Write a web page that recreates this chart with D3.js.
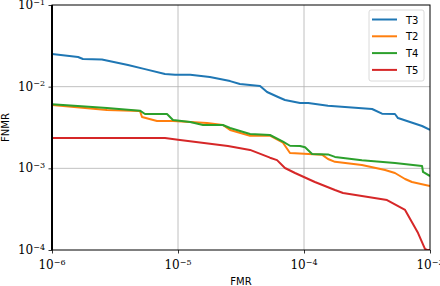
<!DOCTYPE html>
<html>
<head>
<meta charset="utf-8">
<script src="https://cdn.jsdelivr.net/npm/d3@7"></script>
<style>
body { margin: 0; background: #fff; }
svg { display: block; }
</style>
</head>
<body>
<svg id="chart" width="440" height="286"></svg>
<script>
// series names, in legend order
var names = ["T3", "T2", "T4", "T5"];
var colors = ["#1f77b4", "#ff7f0e", "#2ca02c", "#d62728"];

// [FMR, FNMR]
var t3 = [[1e-6,2.51e-2],[1.61e-6,2.31e-2],[1.76e-6,2.18e-2],[2.49e-6,2.15e-2],[4.01e-6,1.84e-2],
	[5.47e-6,1.64e-2],[7.88e-6,1.43e-2],[9.47e-6,1.40e-2],[1.25e-5,1.40e-2],[1.79e-5,1.31e-2],
	[2.59e-5,1.17e-2],[3.10e-5,1.08e-2],[4.48e-5,1.02e-2],[5.09e-5,8.61e-3],[6.22e-5,7.48e-3],
	[7.06e-5,6.87e-3],[9.30e-5,6.31e-3],[1.08e-4,6.31e-3],[1.55e-4,5.85e-3],[3.47e-4,5.33e-3],
	[4.16e-4,4.67e-3],[5.27e-4,4.63e-3],[5.57e-4,4.13e-3],[6.94e-4,3.69e-3],[8.65e-4,3.30e-3],
	[1e-3,2.95e-3]];
var t2 = [[1e-6,5.97e-3],[2.73e-6,5.18e-3],[4.99e-6,5.04e-3],[5.18e-6,4.25e-3],[6.81e-6,3.80e-3],
	[9.12e-6,3.80e-3],[1.25e-5,3.69e-3],[1.70e-5,3.59e-3],[2.27e-5,3.39e-3],[2.59e-5,2.95e-3],
	[3.73e-5,2.51e-3],[5.37e-5,2.51e-3],[6.81e-5,2.06e-3],[7.74e-5,1.54e-3],[8.49e-5,1.53e-3],
	[1.39e-4,1.47e-3],[1.55e-4,1.30e-3],[1.76e-4,1.20e-3],[2.88e-4,1.10e-3],[4.40e-4,9.55e-4],
	[5.27e-4,8.77e-4],[6.34e-4,7.40e-4],[7.19e-4,6.80e-4],[1e-3,6.08e-4]];
var t4 = [[1e-6,6.08e-3],[2.73e-6,5.48e-3],[4.99e-6,5.08e-3],[5.47e-6,4.63e-3],[8.18e-6,4.63e-3],
	[9.12e-6,3.91e-3],[1.25e-5,3.69e-3],[1.58e-5,3.39e-3],[2.27e-5,3.39e-3],[2.59e-5,3.12e-3],
	[3.73e-5,2.63e-3],[5.37e-5,2.56e-3],[6.81e-5,2.12e-3],[7.74e-5,1.89e-3],[9.30e-5,1.88e-3],
	[1.02e-4,1.81e-3],[1.16e-4,1.50e-3],[1.55e-4,1.48e-3],[1.76e-4,1.38e-3],[2.88e-4,1.26e-3],
	[5.27e-4,1.16e-3],[8.65e-4,1.07e-3],[8.80e-4,9.02e-4],[1e-3,8.05e-4]];
var t5 = [[1e-6,2.35e-3],[7.88e-6,2.35e-3],[1e-5,2.24e-3],[2.49e-5,1.88e-3],[3.73e-5,1.68e-3],
	[5.37e-5,1.35e-3],[6.11e-5,1.26e-3],[7.06e-5,1.01e-3],[8.49e-5,8.77e-4],[1.22e-4,6.80e-4],
	[1.76e-4,5.43e-4],[2.04e-4,4.99e-4],[4.56e-4,4.09e-4],[6.34e-4,3.09e-4],[8.04e-4,1.61e-4],
	[9.12e-4,1.03e-4],[9.46e-4,1e-4],[1e-3,1e-4]];
var series = [t3, t2, t4, t5];

var xMajor = [-6, -5, -4, -3];
var yMajor = [-4, -3, -2, -1];

var margin = {left: 52, right: 10, top: 5, bottom: 36};
var width = 440, height = 286;
var svg = d3.select("#chart");

var x = d3.scaleLog().domain([1e-6, 1e-3]).range([margin.left, width - margin.right]);
var y = d3.scaleLog().domain([1e-4, 1e-1]).range([height - margin.bottom, margin.top]);

// minor tick values
function minors(lo, hi){
	var out = [];
	for (var e = lo; e < hi; e++){
		for (var m = 2; m < 10; m++){
			out.push(m * Math.pow(10, e));
		}
	}
	return out;
}

// grid
svg.append("g").selectAll("line")
	.data([-5, -4])
	.enter().append("line")
	.attr("x1", function(d){ return x(Math.pow(10, d)); })
	.attr("x2", function(d){ return x(Math.pow(10, d)); })
	.attr("y1", y(1e-4)).attr("y2", y(1e-1))
	.attr("stroke", "#b0b0b0").attr("stroke-width", 0.8);
svg.append("g").selectAll("line")
	.data([-3, -2])
	.enter().append("line")
	.attr("y1", function(d){ return y(Math.pow(10, d)); })
	.attr("y2", function(d){ return y(Math.pow(10, d)); })
	.attr("x1", x(1e-6)).attr("x2", x(1e-3))
	.attr("stroke", "#b0b0b0").attr("stroke-width", 0.8);

// curves
var line = d3.line()
	.x(function(d){ return x(d[0]); })
	.y(function(d){ return y(d[1]); });

svg.append("defs").append("clipPath").attr("id", "clip")
	.append("rect")
	.attr("x", x(1e-6)).attr("y", y(1e-1) - 2)
	.attr("width", x(1e-3) - x(1e-6)).attr("height", y(1e-4) - y(1e-1) + 2);

svg.append("g").attr("clip-path", "url(#clip)")
	.selectAll("path")
	.data(series)
	.enter().append("path")
	.attr("d", line)
	.attr("fill", "none")
	.attr("stroke", function(d, i){ return colors[i]; })
	.attr("stroke-width", 2)
	.attr("stroke-linejoin", "round");

// axes
var xAxis = svg.append("g").attr("transform", "translate(0," + y(1e-4) + ")");
xAxis.call(d3.axisBottom(x).tickValues(minors(-6, -3)).tickSize(2).tickFormat(""));
xAxis.call(d3.axisBottom(x).tickValues(xMajor.map(function(e){ return Math.pow(10, e); }))
	.tickSize(3.5).tickFormat(""));
var yAxis = svg.append("g").attr("transform", "translate(" + x(1e-6) + ",0)");
yAxis.call(d3.axisLeft(y).tickValues(minors(-4, -1)).tickSize(2).tickFormat(""));
yAxis.call(d3.axisLeft(y).tickValues(yMajor.map(function(e){ return Math.pow(10, e); }))
	.tickSize(3.5).tickFormat(""));
svg.selectAll(".domain").remove();
svg.selectAll(".tick line").attr("stroke", "#000").attr("stroke-width", 0.8);

// frame
svg.append("rect")
	.attr("x", x(1e-6)).attr("y", y(1e-1))
	.attr("width", x(1e-3) - x(1e-6)).attr("height", y(1e-4) - y(1e-1))
	.attr("fill", "none").attr("stroke", "#000").attr("stroke-width", 1);
svg.append("line")
	.attr("x1", x(1e-6)).attr("x2", x(1e-6))
	.attr("y1", y(1e-1)).attr("y2", y(1e-4))
	.attr("stroke", "#000").attr("stroke-width", 2);

// tick labels
function powLabel(sel){
	sel.text("10")
		.append("tspan")
		.attr("dy", "-0.55em")
		.attr("font-size", "8px")
		.text(function(d){ return "\u2212" + Math.abs(d); });
}
svg.append("g").selectAll("text")
	.data(xMajor)
	.enter().append("text")
	.attr("x", function(d){ return x(Math.pow(10, d)); })
	.attr("y", y(1e-4) + 19)
	.attr("text-anchor", "middle")
	.attr("font-family", "DejaVu Serif")
	.attr("font-size", "12px")
	.call(powLabel);
svg.append("g").selectAll("text")
	.data(yMajor)
	.enter().append("text")
	.attr("x", x(1e-6) - 7)
	.attr("y", function(d){ return y(Math.pow(10, d)) + 4; })
	.attr("text-anchor", "end")
	.attr("font-family", "DejaVu Serif")
	.attr("font-size", "12px")
	.call(powLabel);

// axis titles
svg.append("text")
	.attr("x", (x(1e-6) + x(1e-3)) / 2).attr("y", 285)
	.attr("text-anchor", "middle")
	.attr("font-family", "DejaVu Sans").attr("font-size", "10px")
	.text("FMR");
svg.append("text")
	.attr("transform", "translate(9," + (y(1e-4) + y(1e-1)) / 2 + ") rotate(-90)")
	.attr("text-anchor", "middle")
	.attr("font-family", "DejaVu Sans").attr("font-size", "10px")
	.text("FNMR");

// legend
var legend = svg.append("g").attr("transform", "translate(369,10)");
legend.append("rect")
	.attr("width", 55).attr("height", 71).attr("rx", 2)
	.attr("fill", "#fff").attr("fill-opacity", 0.8)
	.attr("stroke", "#d0d0d0").attr("stroke-width", 0.8);
var items = legend.selectAll("g.item")
	.data(names)
	.enter().append("g")
	.attr("class", "item")
	.attr("transform", function(d, i){ return "translate(0," + (9.5 + i * 16.8) + ")"; });
items.append("line")
	.attr("x1", 3).attr("x2", 28)
	.attr("stroke", function(d, i){ return colors[i]; })
	.attr("stroke-width", 2);
items.append("text")
	.attr("x", 37).attr("y", 4)
	.attr("font-family", "DejaVu Sans").attr("font-size", "10px")
	.text(function(d){ return d; });
</script>
</body>
</html>
